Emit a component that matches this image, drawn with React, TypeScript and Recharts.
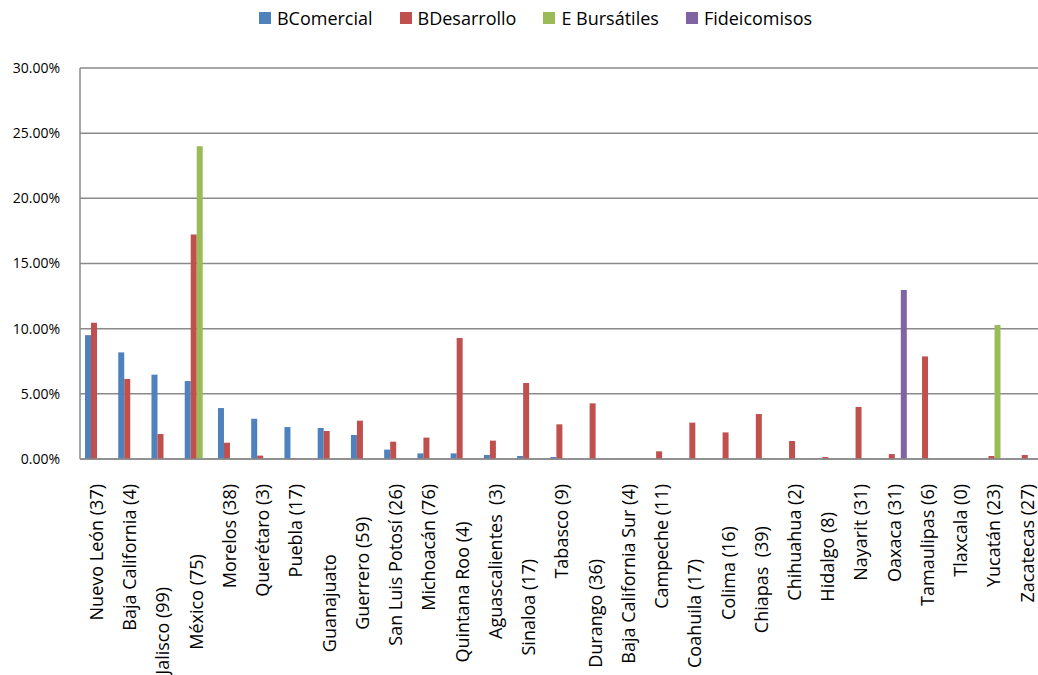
import React from 'react';
import { BarChart, Bar, XAxis, YAxis, CartesianGrid, Legend } from 'recharts';

// States with number of municipalities; trailing spaces come from the source sheet
const states = [
  'Nuevo León (37)',
  'Baja California (4)',
  'Jalisco (99)' + ' '.repeat(22),
  'México (75)' + ' '.repeat(15),
  'Morelos (38)',
  'Querétaro (3)',
  'Puebla (17)',
  'Guanajuato' + ' '.repeat(15),
  'Guerrero (59)' + ' '.repeat(7),
  'San Luis Potosí (26)',
  'Michoacán (76)',
  'Quintana Roo (4)' + ' '.repeat(8),
  'Aguascalientes  (3)',
  'Sinaloa (17)' + ' '.repeat(16),
  'Tabasco (9)',
  'Durango (36)' + ' '.repeat(16),
  'Baja California Sur (4)',
  'Campeche (11)',
  'Coahuila (17)' + ' '.repeat(16),
  'Colima (16)' + ' '.repeat(9),
  'Chiapas  (39)' + ' '.repeat(9),
  'Chihuahua (2)',
  'Hidalgo (8)' + ' '.repeat(6),
  'Nayarit (31)',
  'Oaxaca (31)',
  'Tamaulipas (6)',
  'Tlaxcala (0)',
  'Yucatán (23)',
  'Zacatecas (27)',
];

// shares in percent
const bComercial = [9.5, 8.18, 6.47, 5.98, 3.91, 3.09, 2.45, 2.38, 1.84, 0.72, 0.43, 0.43, 0.31, 0.23, 0.15, 0, 0, 0, 0, 0, 0, 0, 0, 0, 0, 0, 0, 0, 0];
const bDesarrollo = [10.45, 6.13, 1.92, 17.23, 1.25, 0.26, 0.05, 2.15, 2.94, 1.33, 1.64, 9.28, 1.41, 5.83, 2.66, 4.27, 0, 0.59, 2.79, 2.04, 3.45, 1.38, 0.15, 3.99, 0.38, 7.87, 0, 0.23, 0.3];
const eBursatiles = [0, 0, 0, 24.0, 0, 0, 0, 0, 0, 0, 0, 0, 0, 0, 0, 0, 0, 0, 0, 0, 0, 0, 0, 0, 0, 0, 0, 10.28, 0];
const fideicomisos = [0, 0, 0, 0, 0, 0, 0, 0, 0, 0, 0, 0, 0, 0, 0, 0, 0, 0, 0, 0, 0, 0, 0, 0, 12.96, 0, 0, 0, 0];

const yTicks = [0, 5, 10, 15, 20, 25, 30];

const series = [
  { key: 'bcom', name: 'BComercial', color: '#4F81BD', values: bComercial },
  { key: 'bdes', name: 'BDesarrollo', color: '#C0504D', values: bDesarrollo },
  { key: 'ebur', name: 'E Bursátiles', color: '#9BBB59', values: eBursatiles },
  { key: 'fide', name: 'Fideicomisos', color: '#8064A2', values: fideicomisos },
];

const data = states.map((state, i) => {
  const row: Record<string, string | number> = { state };
  series.forEach(s => { row[s.key] = s.values[i]; });
  return row;
});

const FONT = '"Open Sans", sans-serif';
const GRID = '#8a8a8a';

const StateTick = (props: any) => {
  const { x, y, payload } = props;
  return (
    <text
      transform={`translate(${x},${y + 17}) rotate(-90)`}
      textAnchor="end"
      dy="0.35em"
      fontSize={18}
      fontFamily={FONT}
      fill="#000"
      style={{ whiteSpace: 'pre' }}
    >
      {payload.value}
    </text>
  );
};

const LegendBox = () => (
  <div style={{ display: 'flex', justifyContent: 'center', fontFamily: FONT, fontSize: 18, lineHeight: '24px', color: '#000' }}>
    {series.map(s => (
      <div key={s.key} style={{ display: 'flex', alignItems: 'center', marginRight: 27 }}>
        <span style={{ width: 12, height: 12, background: s.color, marginRight: 6, display: 'inline-block' }} />
        <span>{s.name}</span>
      </div>
    ))}
  </div>
);

export default function App() {
  return (
    <div style={{ position: 'absolute', left: 0, top: 0, width: 1038, height: 675, overflow: 'hidden', background: '#fff' }}>
      <BarChart
        width={1058}
        height={675}
        data={data}
        margin={{ top: 44, right: 14, bottom: 0, left: 0 }}
        barGap={0}
        barSize={6}
      >
        <Legend verticalAlign="top" content={<LegendBox />} wrapperStyle={{ top: 6, left: 27 }} />
        <CartesianGrid vertical={false} stroke={GRID} strokeWidth={1.5} />
        <XAxis
          dataKey="state"
          interval={0}
          height={216}
          tickLine={false}
          tick={<StateTick />}
          stroke={GRID}
          strokeWidth={1.5}
        />
        <YAxis
          width={80}
          domain={[0, 30]}
          ticks={yTicks}
          tickFormatter={(v: number) => v.toFixed(2) + '%'}
          tickLine={false}
          tickMargin={14}
          stroke={GRID}
          strokeWidth={1.5}
          tick={{ fill: '#000', fontSize: 14, fontFamily: FONT }}
        />
        {series.map(s => (
          <Bar key={s.key} dataKey={s.key} name={s.name} fill={s.color} isAnimationActive={false} />
        ))}
      </BarChart>
    </div>
  );
}
